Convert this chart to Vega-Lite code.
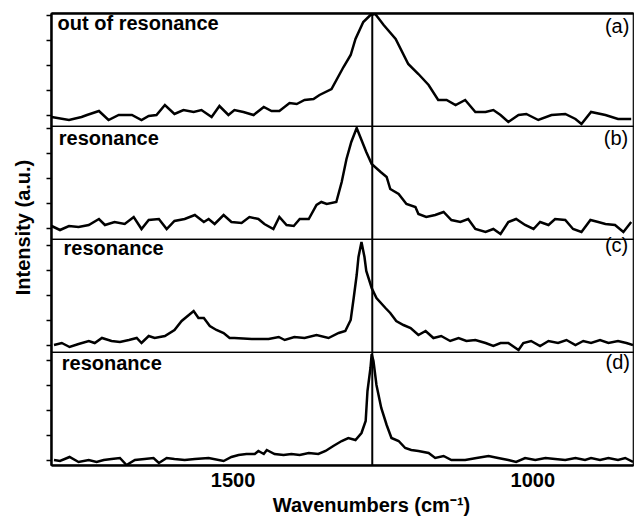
{
  "$schema": "https://vega.github.io/schema/vega-lite/v6.json",
  "background": "white",
  "padding": {"left": 12, "top": 11, "right": 5, "bottom": 0},
  "spacing": 0,
  "bounds": "flush",
  "config": {
    "font": "Liberation Sans",
    "view": {"stroke": "black", "strokeWidth": 1.2},
    "axis": {"grid": false, "domainColor": "black", "tickColor": "black", "labelColor": "black", "titleColor": "black", "labelFont": "Liberation Sans", "titleFont": "Liberation Sans"},
    "line": {"color": "black", "strokeWidth": 2.5},
    "text": {"color": "black", "font": "Liberation Sans"}
  },
  "datasets": {
    "a": [
      {"wn":1802,"intensity":9},{"wn":1773,"intensity":6},{"wn":1752,"intensity":9},{"wn":1743,"intensity":11},{"wn":1723,"intensity":15},{"wn":1707,"intensity":6},{"wn":1690,"intensity":11},{"wn":1668,"intensity":11},{"wn":1652,"intensity":6},{"wn":1640,"intensity":10},{"wn":1627,"intensity":11},{"wn":1613,"intensity":21},{"wn":1597,"intensity":12},{"wn":1582,"intensity":16},{"wn":1565,"intensity":14},{"wn":1552,"intensity":16},{"wn":1535,"intensity":9},{"wn":1522,"intensity":20},{"wn":1507,"intensity":11},{"wn":1497,"intensity":16},{"wn":1482,"intensity":14},{"wn":1465,"intensity":11},{"wn":1448,"intensity":19},{"wn":1435,"intensity":15},{"wn":1422,"intensity":15},{"wn":1405,"intensity":23},{"wn":1393,"intensity":22},{"wn":1380,"intensity":26},{"wn":1365,"intensity":27},{"wn":1355,"intensity":31},{"wn":1335,"intensity":37},{"wn":1315,"intensity":59},{"wn":1303,"intensity":71},{"wn":1295,"intensity":87},{"wn":1282,"intensity":104},{"wn":1270,"intensity":111},{"wn":1262,"intensity":112},{"wn":1248,"intensity":101},{"wn":1228,"intensity":87},{"wn":1207,"intensity":62},{"wn":1190,"intensity":52},{"wn":1173,"intensity":41},{"wn":1157,"intensity":26},{"wn":1143,"intensity":26},{"wn":1128,"intensity":21},{"wn":1112,"intensity":26},{"wn":1095,"intensity":14},{"wn":1078,"intensity":14},{"wn":1065,"intensity":16},{"wn":1053,"intensity":11},{"wn":1040,"intensity":4},{"wn":1023,"intensity":11},{"wn":1010,"intensity":12},{"wn":990,"intensity":6},{"wn":968,"intensity":11},{"wn":945,"intensity":12},{"wn":928,"intensity":7},{"wn":918,"intensity":2},{"wn":902,"intensity":14},{"wn":878,"intensity":11},{"wn":857,"intensity":7},{"wn":835,"intensity":7}
    ],
    "b": [
      {"wn":1802,"intensity":13},{"wn":1788,"intensity":9},{"wn":1773,"intensity":13},{"wn":1757,"intensity":12},{"wn":1740,"intensity":14},{"wn":1723,"intensity":20},{"wn":1713,"intensity":14},{"wn":1697,"intensity":17},{"wn":1680,"intensity":15},{"wn":1665,"intensity":22},{"wn":1652,"intensity":10},{"wn":1640,"intensity":19},{"wn":1623,"intensity":20},{"wn":1610,"intensity":10},{"wn":1597,"intensity":18},{"wn":1580,"intensity":20},{"wn":1563,"intensity":24},{"wn":1548,"intensity":17},{"wn":1540,"intensity":20},{"wn":1530,"intensity":15},{"wn":1515,"intensity":24},{"wn":1502,"intensity":17},{"wn":1485,"intensity":16},{"wn":1472,"intensity":22},{"wn":1457,"intensity":20},{"wn":1447,"intensity":15},{"wn":1432,"intensity":10},{"wn":1422,"intensity":22},{"wn":1410,"intensity":14},{"wn":1398,"intensity":13},{"wn":1388,"intensity":20},{"wn":1373,"intensity":20},{"wn":1360,"intensity":34},{"wn":1352,"intensity":37},{"wn":1343,"intensity":35},{"wn":1327,"intensity":37},{"wn":1318,"intensity":57},{"wn":1310,"intensity":80},{"wn":1302,"intensity":97},{"wn":1293,"intensity":111},{"wn":1285,"intensity":99},{"wn":1277,"intensity":87},{"wn":1268,"intensity":75},{"wn":1253,"intensity":67},{"wn":1243,"intensity":62},{"wn":1237,"intensity":50},{"wn":1223,"intensity":45},{"wn":1210,"intensity":35},{"wn":1195,"intensity":32},{"wn":1190,"intensity":25},{"wn":1177,"intensity":22},{"wn":1162,"intensity":24},{"wn":1148,"intensity":27},{"wn":1135,"intensity":19},{"wn":1120,"intensity":17},{"wn":1107,"intensity":20},{"wn":1095,"intensity":10},{"wn":1078,"intensity":7},{"wn":1065,"intensity":10},{"wn":1053,"intensity":5},{"wn":1040,"intensity":17},{"wn":1027,"intensity":20},{"wn":1012,"intensity":14},{"wn":998,"intensity":10},{"wn":987,"intensity":17},{"wn":973,"intensity":14},{"wn":962,"intensity":20},{"wn":945,"intensity":19},{"wn":932,"intensity":10},{"wn":918,"intensity":7},{"wn":903,"intensity":19},{"wn":890,"intensity":17},{"wn":878,"intensity":15},{"wn":862,"intensity":14},{"wn":848,"intensity":7},{"wn":835,"intensity":17}
    ],
    "c": [
      {"wn":1798,"intensity":7},{"wn":1785,"intensity":9},{"wn":1772,"intensity":5},{"wn":1757,"intensity":8},{"wn":1740,"intensity":11},{"wn":1730,"intensity":9},{"wn":1718,"intensity":14},{"wn":1702,"intensity":11},{"wn":1688,"intensity":10},{"wn":1673,"intensity":12},{"wn":1660,"intensity":14},{"wn":1652,"intensity":9},{"wn":1640,"intensity":16},{"wn":1630,"intensity":14},{"wn":1613,"intensity":16},{"wn":1597,"intensity":22},{"wn":1585,"intensity":31},{"wn":1573,"intensity":37},{"wn":1565,"intensity":41},{"wn":1557,"intensity":34},{"wn":1548,"intensity":34},{"wn":1538,"intensity":26},{"wn":1527,"intensity":22},{"wn":1515,"intensity":19},{"wn":1505,"intensity":14},{"wn":1497,"intensity":14},{"wn":1468,"intensity":13},{"wn":1440,"intensity":13},{"wn":1423,"intensity":15},{"wn":1413,"intensity":12},{"wn":1397,"intensity":15},{"wn":1380,"intensity":14},{"wn":1360,"intensity":17},{"wn":1340,"intensity":14},{"wn":1323,"intensity":19},{"wn":1312,"intensity":21},{"wn":1303,"intensity":32},{"wn":1298,"intensity":54},{"wn":1293,"intensity":77},{"wn":1290,"intensity":95},{"wn":1285,"intensity":110},{"wn":1280,"intensity":95},{"wn":1277,"intensity":81},{"wn":1268,"intensity":64},{"wn":1260,"intensity":54},{"wn":1245,"intensity":44},{"wn":1237,"intensity":39},{"wn":1227,"intensity":31},{"wn":1215,"intensity":27},{"wn":1203,"intensity":24},{"wn":1190,"intensity":17},{"wn":1178,"intensity":21},{"wn":1165,"intensity":14},{"wn":1152,"intensity":16},{"wn":1137,"intensity":11},{"wn":1123,"intensity":14},{"wn":1110,"intensity":11},{"wn":1095,"intensity":12},{"wn":1078,"intensity":9},{"wn":1065,"intensity":6},{"wn":1053,"intensity":9},{"wn":1040,"intensity":9},{"wn":1023,"intensity":2},{"wn":1015,"intensity":9},{"wn":1002,"intensity":11},{"wn":987,"intensity":6},{"wn":973,"intensity":11},{"wn":957,"intensity":9},{"wn":943,"intensity":12},{"wn":928,"intensity":7},{"wn":915,"intensity":11},{"wn":902,"intensity":9},{"wn":887,"intensity":12},{"wn":873,"intensity":9},{"wn":857,"intensity":11},{"wn":843,"intensity":9},{"wn":832,"intensity":7}
    ],
    "d": [
      {"wn":1798,"intensity":5},{"wn":1788,"intensity":4},{"wn":1772,"intensity":8},{"wn":1757,"intensity":3},{"wn":1740,"intensity":5},{"wn":1727,"intensity":3},{"wn":1715,"intensity":5},{"wn":1702,"intensity":6},{"wn":1688,"intensity":7},{"wn":1677,"intensity":0},{"wn":1663,"intensity":5},{"wn":1647,"intensity":6},{"wn":1632,"intensity":7},{"wn":1623,"intensity":2},{"wn":1610,"intensity":7},{"wn":1597,"intensity":6},{"wn":1580,"intensity":5},{"wn":1563,"intensity":6},{"wn":1540,"intensity":7},{"wn":1515,"intensity":4},{"wn":1502,"intensity":8},{"wn":1490,"intensity":10},{"wn":1477,"intensity":11},{"wn":1463,"intensity":11},{"wn":1457,"intensity":14},{"wn":1448,"intensity":11},{"wn":1443,"intensity":15},{"wn":1430,"intensity":11},{"wn":1415,"intensity":10},{"wn":1402,"intensity":11},{"wn":1388,"intensity":10},{"wn":1373,"intensity":12},{"wn":1357,"intensity":11},{"wn":1345,"intensity":14},{"wn":1332,"intensity":19},{"wn":1318,"intensity":24},{"wn":1307,"intensity":27},{"wn":1295,"intensity":25},{"wn":1285,"intensity":32},{"wn":1278,"intensity":44},{"wn":1275,"intensity":74},{"wn":1270,"intensity":97},{"wn":1268,"intensity":111},{"wn":1265,"intensity":104},{"wn":1260,"intensity":80},{"wn":1252,"intensity":57},{"wn":1243,"intensity":40},{"wn":1235,"intensity":27},{"wn":1223,"intensity":24},{"wn":1212,"intensity":17},{"wn":1202,"intensity":15},{"wn":1190,"intensity":14},{"wn":1173,"intensity":12},{"wn":1162,"intensity":7},{"wn":1148,"intensity":9},{"wn":1135,"intensity":5},{"wn":1112,"intensity":5},{"wn":1093,"intensity":7},{"wn":1073,"intensity":9},{"wn":1057,"intensity":7},{"wn":1040,"intensity":5},{"wn":1027,"intensity":3},{"wn":1012,"intensity":7},{"wn":995,"intensity":5},{"wn":978,"intensity":7},{"wn":962,"intensity":6},{"wn":945,"intensity":5},{"wn":928,"intensity":7},{"wn":912,"intensity":5},{"wn":902,"intensity":7},{"wn":887,"intensity":5},{"wn":873,"intensity":7},{"wn":857,"intensity":5},{"wn":845,"intensity":7},{"wn":832,"intensity":3}
    ]
  },
  "vconcat": [
    {
      "width": 582, "height": 113,
      "layer": [
        {"data": {"name": "a"}, "mark": {"type": "line", "clip": true},
         "encoding": {
           "x": {"field": "wn", "type": "quantitative", "scale": {"domain": [832, 1803], "reverse": true, "nice": false, "zero": false}, "axis": {"orient": "top", "labels": false, "ticks": false, "title": null, "domainWidth": 2.5}},
           "y": {"field": "intensity", "type": "quantitative", "scale": {"domain": [0, 113], "nice": false}, "axis": {"title": null, "labels": false, "tickSize": 5, "tickWidth": 1.5, "tickCount": 10, "values": [11, 36, 61, 86, 111], "domainWidth": 2.5}}
         }},
        {"data": {"values": [{}]}, "mark": {"type": "rule", "strokeWidth": 2, "color": "black"}, "encoding": {"x": {"datum": 1267}}},
        {"data": {"values": [{}]}, "mark": {"type": "text", "align": "left", "baseline": "alphabetic", "fontWeight": "bold", "fontSize": 20}, "encoding": {"x": {"datum": 1792}, "y": {"datum": 96}, "text": {"value": "out of resonance"}}},
        {"data": {"values": [{}]}, "mark": {"type": "text", "align": "right", "baseline": "alphabetic", "fontSize": 20}, "encoding": {"x": {"datum": 838}, "y": {"datum": 93}, "text": {"value": "(a)"}}}
      ]
    },
    {
      "width": 582, "height": 113,
      "layer": [
        {"data": {"name": "b"}, "mark": {"type": "line", "clip": true},
         "encoding": {
           "x": {"field": "wn", "type": "quantitative", "scale": {"domain": [832, 1803], "reverse": true, "nice": false, "zero": false}, "axis": null},
           "y": {"field": "intensity", "type": "quantitative", "scale": {"domain": [0, 113], "nice": false}, "axis": {"title": "Intensity (a.u.)", "titleFontSize": 20, "titleFontWeight": "bold", "titleX": -22, "titleY": 101, "titleAngle": 270, "titleAlign": "center", "titleBaseline": "alphabetic", "labels": false, "tickSize": 5, "tickWidth": 1.5, "tickCount": 10, "values": [11, 36, 61, 86, 111], "domainWidth": 2.5}}
         }},
        {"data": {"values": [{}]}, "mark": {"type": "rule", "strokeWidth": 2, "color": "black"}, "encoding": {"x": {"datum": 1267}}},
        {"data": {"values": [{}]}, "mark": {"type": "text", "align": "left", "baseline": "alphabetic", "fontWeight": "bold", "fontSize": 20}, "encoding": {"x": {"datum": 1790}, "y": {"datum": 94}, "text": {"value": "resonance"}}},
        {"data": {"values": [{}]}, "mark": {"type": "text", "align": "right", "baseline": "alphabetic", "fontSize": 20}, "encoding": {"x": {"datum": 840}, "y": {"datum": 94}, "text": {"value": "(b)"}}}
      ]
    },
    {
      "width": 582, "height": 113,
      "layer": [
        {"data": {"name": "c"}, "mark": {"type": "line", "clip": true},
         "encoding": {
           "x": {"field": "wn", "type": "quantitative", "scale": {"domain": [832, 1803], "reverse": true, "nice": false, "zero": false}, "axis": null},
           "y": {"field": "intensity", "type": "quantitative", "scale": {"domain": [0, 113], "nice": false}, "axis": {"title": null, "labels": false, "tickSize": 5, "tickWidth": 1.5, "tickCount": 10, "values": [7, 32, 57, 82, 107], "domainWidth": 2.5}}
         }},
        {"data": {"values": [{}]}, "mark": {"type": "rule", "strokeWidth": 2, "color": "black"}, "encoding": {"x": {"datum": 1267}}},
        {"data": {"values": [{}]}, "mark": {"type": "text", "align": "left", "baseline": "alphabetic", "fontWeight": "bold", "fontSize": 20}, "encoding": {"x": {"datum": 1782}, "y": {"datum": 97}, "text": {"value": "resonance"}}},
        {"data": {"values": [{}]}, "mark": {"type": "text", "align": "right", "baseline": "alphabetic", "fontSize": 20}, "encoding": {"x": {"datum": 840}, "y": {"datum": 100}, "text": {"value": "(c)"}}}
      ]
    },
    {
      "width": 582, "height": 113,
      "layer": [
        {"data": {"name": "d"}, "mark": {"type": "line", "clip": true},
         "encoding": {
           "x": {"field": "wn", "type": "quantitative", "scale": {"domain": [832, 1803], "reverse": true, "nice": false, "zero": false}, "axis": {"orient": "bottom", "values": [1500, 1000], "format": "d", "ticks": false, "labelPadding": 5, "labelFontSize": 20, "labelFontWeight": "bold", "title": "Wavenumbers (cm⁻¹)", "titleFontSize": 20, "titleFontWeight": "bold", "titleX": 320, "titleY": 46, "titleAlign": "center", "titleBaseline": "alphabetic", "domainWidth": 2.5}},
           "y": {"field": "intensity", "type": "quantitative", "scale": {"domain": [0, 113], "nice": false}, "axis": {"title": null, "labels": false, "tickSize": 5, "tickWidth": 1.5, "tickCount": 10, "values": [5, 30, 55, 80, 105], "domainWidth": 2.5}}
         }},
        {"data": {"values": [{}]}, "mark": {"type": "rule", "strokeWidth": 2, "color": "black"}, "encoding": {"x": {"datum": 1267}}},
        {"data": {"values": [{}]}, "mark": {"type": "text", "align": "left", "baseline": "alphabetic", "fontWeight": "bold", "fontSize": 20}, "encoding": {"x": {"datum": 1785}, "y": {"datum": 95}, "text": {"value": "resonance"}}},
        {"data": {"values": [{}]}, "mark": {"type": "text", "align": "right", "baseline": "alphabetic", "fontSize": 20}, "encoding": {"x": {"datum": 837}, "y": {"datum": 96}, "text": {"value": "(d)"}}}
      ]
    }
  ]
}
